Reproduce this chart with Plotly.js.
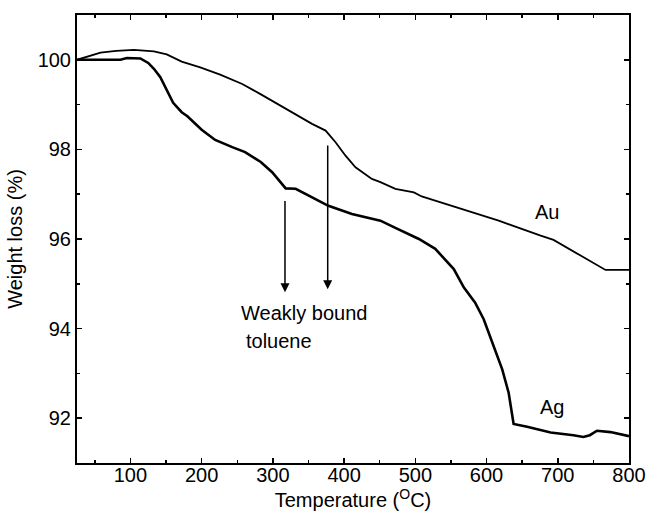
<!DOCTYPE html>
<html>
<head>
<meta charset="utf-8">
<script src="https://cdn.plot.ly/plotly-3.0.1.min.js"></script>
<style>html,body{margin:0;padding:0;background:#fff;}#chart{width:647px;height:516px;}</style>
</head>
<body>
<div id="chart"></div>
<script>
// Au sample (temperature °C, weight %)
const auTemp = [25, 40, 58, 80, 105, 133, 151, 172, 198, 226, 257, 282, 322, 355, 374, 388, 402, 416, 439, 451, 472, 498, 509, 544, 617, 675, 694, 732, 767, 800];
const auWeight = [100.00, 100.08, 100.16, 100.20, 100.22, 100.19, 100.12, 99.96, 99.83, 99.67, 99.46, 99.24, 98.87, 98.57, 98.42, 98.16, 97.86, 97.60, 97.34, 97.27, 97.12, 97.04, 96.95, 96.78, 96.41, 96.08, 95.98, 95.63, 95.31, 95.31];

// Ag sample
const agTemp = [25, 86, 95, 105, 114, 125, 133, 142, 151, 160, 172, 180, 200, 219, 243, 261, 276, 283, 299, 311, 318, 332, 355, 378, 411, 439, 451, 472, 488, 505, 528, 535, 542, 554, 568, 584, 596, 610, 622, 631, 638, 657, 690, 722, 736, 745, 755, 774, 800];
const agWeight = [100.00, 100.00, 100.04, 100.03, 100.03, 99.93, 99.80, 99.61, 99.31, 99.04, 98.83, 98.74, 98.44, 98.21, 98.05, 97.94, 97.79, 97.72, 97.49, 97.26, 97.13, 97.12, 96.93, 96.74, 96.56, 96.45, 96.41, 96.25, 96.12, 96.00, 95.78, 95.66, 95.52, 95.33, 94.92, 94.58, 94.21, 93.62, 93.09, 92.57, 91.87, 91.81, 91.68, 91.62, 91.58, 91.62, 91.72, 91.69, 91.60];

const xTicks = [100, 200, 300, 400, 500, 600, 700, 800];
const yTicks = [92, 94, 96, 98, 100];

const font = 'Arial, "Liberation Sans", sans-serif';

const traces = [
  {x: auTemp, y: auWeight, mode: 'lines', name: 'Au', line: {color: '#000', width: 1.8}},
  {x: agTemp, y: agWeight, mode: 'lines', name: 'Ag', line: {color: '#000', width: 2.6}}
];

const axisCommon = {
  showgrid: false, zeroline: false, showline: true, linecolor: '#000', linewidth: 2,
  mirror: 'ticks', ticks: 'inside', ticklen: 5, tickwidth: 1.5, tickcolor: '#000',
  tickfont: {family: font, size: 20, color: '#000'}
};

const layout = {
  width: 647, height: 516,
  margin: {l: 77, r: 18, t: 15, b: 53},
  paper_bgcolor: '#fff', plot_bgcolor: '#fff',
  showlegend: false,
  font: {family: font, color: '#000'},
  xaxis: Object.assign({}, axisCommon, {
    range: [25, 800], tickvals: xTicks, ticktext: xTicks.map(String),
    ticklabelstandoff: -7,
    minor: {dtick: 50, tick0: 0, ticks: 'inside', ticklen: 3, tickwidth: 1.5, tickcolor: '#000'},
    title: {text: 'Temperature (<sup>O</sup>C)', font: {family: font, size: 20, color: '#000'}, standoff: 6}
  }),
  yaxis: Object.assign({}, axisCommon, {
    range: [91, 101], tickvals: yTicks, ticktext: yTicks.map(String),
    minor: {dtick: 1, tick0: 0, ticks: 'inside', ticklen: 3, tickwidth: 1.5, tickcolor: '#000'},
    title: {text: 'Weight loss (%)', font: {family: font, size: 20, color: '#000'}, standoff: 10}
  }),
  annotations: [
    {x: 684.6, y: 96.61, text: 'Au', showarrow: false, font: {family: font, size: 20, color: '#000'}},
    {x: 691.6, y: 92.25, text: 'Ag', showarrow: false, font: {family: font, size: 20, color: '#000'}},
    {x: 317, y: 94.81, ax: 317, ay: 96.88, axref: 'x', ayref: 'y', text: '', showarrow: true,
     arrowhead: 2, arrowsize: 1.2, arrowwidth: 1.5, arrowcolor: '#000', standoff: 0},
    {x: 377, y: 94.88, ax: 377, ay: 98.12, axref: 'x', ayref: 'y', text: '', showarrow: true,
     arrowhead: 2, arrowsize: 1.2, arrowwidth: 1.5, arrowcolor: '#000', standoff: 0},
    {x: 253, y: 94.35, xanchor: 'left', yanchor: 'middle', text: 'Weakly bound', showarrow: false,
     font: {family: font, size: 20, color: '#000'}},
    {x: 260, y: 93.72, xanchor: 'left', yanchor: 'middle', text: 'toluene', showarrow: false,
     font: {family: font, size: 20, color: '#000'}}
  ]
};

Plotly.newPlot('chart', traces, layout, {staticPlot: true, displayModeBar: false});
</script>
</body>
</html>
